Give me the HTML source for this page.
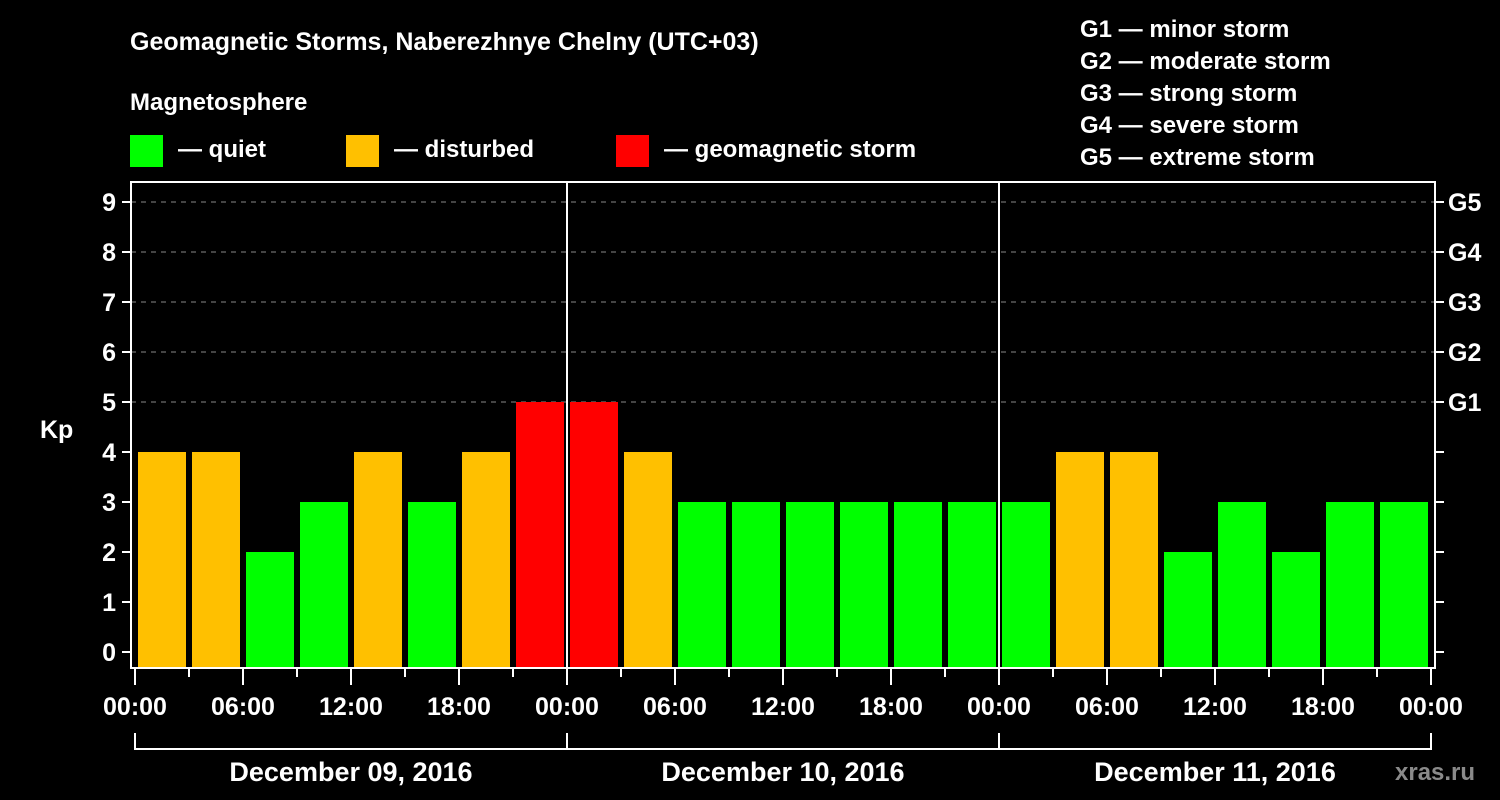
<!DOCTYPE html>
<html><head><meta charset="utf-8"><style>
body{margin:0;background:#000;width:1500px;height:800px;overflow:hidden}
svg{display:block}
text{font-family:"Liberation Sans",Arial,sans-serif;font-weight:bold;fill:#fff}
</style></head><body>
<svg id="chart" width="1500" height="800">
<text x="130" y="50" font-size="25">Geomagnetic Storms, Naberezhnye Chelny (UTC+03)</text>
<text x="130" y="110" font-size="24">Magnetosphere</text>
<rect x="130" y="135" width="33" height="32" fill="#00ff00"/>
<text x="178" y="157" font-size="24">— quiet</text>
<rect x="346" y="135" width="33" height="32" fill="#ffc000"/>
<text x="394" y="157" font-size="24">— disturbed</text>
<rect x="616" y="135" width="33" height="32" fill="#ff0000"/>
<text x="664" y="157" font-size="24">— geomagnetic storm</text>
<g font-size="24">
<text x="1080" y="37">G1 — minor storm</text>
<text x="1080" y="69">G2 — moderate storm</text>
<text x="1080" y="101">G3 — strong storm</text>
<text x="1080" y="133">G4 — severe storm</text>
<text x="1080" y="165">G5 — extreme storm</text>
</g>
<text x="40" y="438" font-size="25">Kp</text>
<text x="1395" y="780" font-size="24" fill="#888" style="fill:#8a8a8a">xras.ru</text>
<g id="grid"></g><g id="bars"></g><g id="axes"></g>
</svg>
<script>
const kpValues=[4,4,2,3,4,3,4,5, 5,4,3,3,3,3,3,3, 3,4,4,2,3,2,3,3];
const yTicks=[0,1,2,3,4,5,6,7,8,9];
const gLabels=["G1","G2","G3","G4","G5"];
const xTickLabels=["00:00","06:00","12:00","18:00","00:00","06:00","12:00","18:00","00:00","06:00","12:00","18:00","00:00"];
const dayLabels=["December 09, 2016","December 10, 2016","December 11, 2016"];
const NS="http://www.w3.org/2000/svg";
const X0=135,SLOT=54,Y0=652,UNIT=50,TOP=182,BOT=668,L=131,R=1435;
const xs=i=>X0+i*SLOT, ys=v=>Y0-v*UNIT;
function mk(p,tag,a){const e=document.createElementNS(NS,tag);for(const k in a)e.setAttribute(k,a[k]);p.appendChild(e);return e;}
const grid=document.getElementById('grid'),bars=document.getElementById('bars'),axes=document.getElementById('axes');
yTicks.forEach(v=>{
 if(v>=5){const l=mk(grid,'line',{x1:L,x2:R,y1:ys(v),y2:ys(v),stroke:'#888','stroke-dasharray':'5,5','stroke-width':1});
 
 }
 const t=mk(axes,'line',{x1:122,x2:L,y1:ys(v),y2:ys(v),stroke:'#fff','stroke-width':2});
 
 
 const lb=mk(axes,'text',{x:116,y:ys(v)+9,'font-size':25,'text-anchor':'end'});lb.textContent=v;
 
 
 const rt=mk(axes,'line',{x1:R,x2:R+9,y1:ys(v),y2:ys(v),stroke:'#fff','stroke-width':2});
 
 
 if(v>=5){const g=mk(axes,'text',{x:1448,y:ys(v)+9,'font-size':25});g.textContent=gLabels[v-5];
 
 }
});
kpValues.forEach((v,i)=>{
 const c=v>=5?'#ff0000':v>=4?'#ffc000':'#00ff00';
 const b=mk(bars,'rect',{x:xs(i)+3,y:ys(v),width:SLOT-6,height:BOT-ys(v),fill:c});
 
 
});
const fr=mk(axes,'rect',{x:L,y:TOP,width:R-L,height:BOT-TOP,fill:'none',stroke:'#fff','stroke-width':2});


[1,2].forEach(d=>{const l=mk(axes,'line',{x1:xs(d*8),x2:xs(d*8),y1:TOP,y2:BOT,stroke:'#fff','stroke-width':2});
 
 });
for(let i=0;i<=24;i++){
 const major=i%2===0;
 const t=mk(axes,'line',{x1:xs(i),x2:xs(i),y1:BOT,y2:major?685:677,stroke:'#fff','stroke-width':2});
 
 
 if(major){const lb=mk(axes,'text',{x:xs(i),y:715,'font-size':25,'text-anchor':'middle'});lb.textContent=xTickLabels[i/2];
 
 }
}
dayLabels.forEach((d,k)=>{
 const a=xs(k*8),b=xs(k*8+8);
 const p=mk(axes,'path',{d:`M${a},733V749H${b}V733`,fill:'none',stroke:'#fff','stroke-width':2});
 
 
 const t=mk(axes,'text',{x:(a+b)/2,y:781,'font-size':27,'text-anchor':'middle'});t.textContent=d;
 
 
});
</script>
</body></html>
